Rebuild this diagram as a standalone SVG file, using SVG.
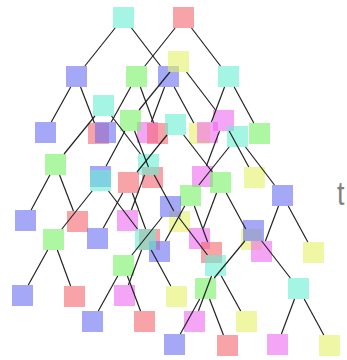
<svg xmlns="http://www.w3.org/2000/svg" width="347" height="360" viewBox="0 0 347 360">
<style>
rect{width:21px;height:21px;fill-opacity:0.6}
.c{fill:#67eed2}.p{fill:#f2666e}.b{fill:#696ef2}.g{fill:#76f266}.m{fill:#ee69ee}.y{fill:#e4f267}
#edges line{stroke:#222;stroke-width:1.2}
.lbl{font-family:"Liberation Sans",Arial,sans-serif;font-size:34px;fill:#808080}
</style>
<g id="nodes">
<g id="tA"><g id="nA"><rect class="c" x="113" y="7"/></g><g id="nD"><rect class="b" x="66" y="66"/></g><g id="nF"><rect class="b" x="158" y="66"/></g><g id="nL"><rect class="b" x="35" y="122"/></g><g id="nM"><rect class="p" x="88" y="123"/></g><g id="nO"><rect class="m" x="137" y="122"/></g><g id="nQ"><rect class="y" x="189" y="123"/></g></g>
<g id="tB"><g id="nB"><rect class="p" x="173" y="7"/></g><g id="nE"><rect class="g" x="126" y="66"/></g><g id="nG"><rect class="c" x="218" y="66"/></g><g id="nN"><rect class="b" x="95" y="122"/></g><g id="nP"><rect class="p" x="147" y="123"/></g><g id="nR"><rect class="m" x="197" y="122"/></g><g id="nT"><rect class="g" x="249" y="123"/></g></g>
<g id="tC"><g id="nC"><rect class="y" x="168" y="51"/></g><g id="nI"><rect class="g" x="120" y="110"/></g><g id="nJ"><rect class="m" x="213" y="110"/></g><g id="nW"><rect class="b" x="90" y="166"/></g><g id="nZ"><rect class="p" x="142" y="167"/></g><g id="nAA"><rect class="m" x="192" y="166"/></g><g id="nAC"><rect class="y" x="244" y="167"/></g></g>
<g id="tH"><g id="nH"><rect class="c" x="93" y="95"/></g><g id="nU"><rect class="g" x="45" y="154"/></g><g id="nV"><rect class="c" x="138" y="154"/></g><g id="nAG"><rect class="b" x="15" y="210"/></g><g id="nAH"><rect class="p" x="67" y="211"/></g><g id="nAI"><rect class="m" x="117" y="210"/></g><g id="nAJ"><rect class="y" x="169" y="211"/></g></g>
<g id="tK"><g id="nK"><rect class="c" x="165" y="114"/></g><g id="nY"><rect class="p" x="118" y="172"/></g><g id="nAB"><rect class="g" x="210" y="172"/></g><g id="nAO"><rect class="b" x="87" y="228"/></g><g id="nAP"><rect class="p" x="139" y="229"/></g><g id="nAL"><rect class="m" x="189" y="228"/></g><g id="nAM"><rect class="y" x="241" y="229"/></g></g>
<g id="tS"><g id="nS"><rect class="c" x="227" y="126"/></g><g id="nAD"><rect class="g" x="180" y="185"/></g><g id="nAE"><rect class="b" x="272" y="185"/></g><g id="nAR"><rect class="b" x="149" y="241"/></g><g id="nAT"><rect class="p" x="201" y="242"/></g><g id="nAS"><rect class="m" x="251" y="241"/></g><g id="nAU"><rect class="y" x="303" y="242"/></g></g>
<g id="tX"><g id="nX"><rect class="c" x="90" y="170"/></g><g id="nAN"><rect class="g" x="43" y="229"/></g><g id="nAQ"><rect class="c" x="135" y="229"/></g><g id="nAZ"><rect class="b" x="12" y="285"/></g><g id="nBA"><rect class="p" x="64" y="286"/></g><g id="nBB"><rect class="m" x="114" y="285"/></g><g id="nBC"><rect class="y" x="166" y="286"/></g></g>
<g id="tAF"><g id="nAF"><rect class="b" x="160" y="196"/></g><g id="nAW"><rect class="g" x="113" y="255"/></g><g id="nAV"><rect class="c" x="205" y="255"/></g><g id="nBF"><rect class="b" x="82" y="311"/></g><g id="nBG"><rect class="p" x="134" y="311"/></g><g id="nBD"><rect class="m" x="184" y="311"/></g><g id="nBE"><rect class="y" x="236" y="311"/></g></g>
<g id="tAK"><g id="nAK"><rect class="b" x="243" y="220"/></g><g id="nAX"><rect class="g" x="195" y="278"/></g><g id="nAY"><rect class="c" x="288" y="278"/></g><g id="nBH"><rect class="b" x="164" y="334"/></g><g id="nBI"><rect class="p" x="217" y="335"/></g><g id="nBJ"><rect class="m" x="267" y="334"/></g><g id="nBK"><rect class="y" x="319" y="335"/></g></g>
</g>
<g id="edges">
<line x1="115.14" y1="28" x2="84.86" y2="66"/><line x1="131.51" y1="28" x2="160.49" y2="66"/>
<line x1="70.69" y1="87" x2="51.31" y2="122"/><line x1="80.55" y1="87" x2="94.45" y2="123"/>
<line x1="164.56" y1="87" x2="151.44" y2="122"/><line x1="174.21" y1="87" x2="193.79" y2="123"/>
<line x1="175.14" y1="28" x2="144.86" y2="66"/><line x1="191.51" y1="28" x2="220.49" y2="66"/>
<line x1="130.69" y1="87" x2="111.31" y2="122"/><line x1="140.37" y1="87" x2="153.63" y2="123"/>
<line x1="224.56" y1="87" x2="211.44" y2="122"/><line x1="234.21" y1="87" x2="253.79" y2="123"/>
<line x1="169.96" y1="72" x2="139.04" y2="110"/><line x1="186.51" y1="72" x2="215.49" y2="110"/>
<line x1="124.88" y1="131" x2="106.13" y2="166"/><line x1="134.55" y1="131" x2="148.45" y2="167"/>
<line x1="219.56" y1="131" x2="206.44" y2="166"/><line x1="229.21" y1="131" x2="248.79" y2="167"/>
<line x1="94.96" y1="116" x2="64.04" y2="154"/><line x1="111.51" y1="116" x2="140.49" y2="154"/>
<line x1="49.88" y1="175" x2="31.13" y2="210"/><line x1="59.55" y1="175" x2="73.45" y2="211"/>
<line x1="144.56" y1="175" x2="131.44" y2="210"/><line x1="154.21" y1="175" x2="173.79" y2="211"/>
<line x1="166.99" y1="135" x2="137.01" y2="172"/><line x1="183.65" y1="135" x2="212.35" y2="172"/>
<line x1="122.69" y1="193" x2="103.31" y2="228"/><line x1="132.37" y1="193" x2="145.63" y2="229"/>
<line x1="216.56" y1="193" x2="203.44" y2="228"/><line x1="226.21" y1="193" x2="245.79" y2="229"/>
<line x1="229.14" y1="147" x2="198.86" y2="185"/><line x1="245.51" y1="147" x2="274.49" y2="185"/>
<line x1="184.69" y1="206" x2="165.31" y2="241"/><line x1="194.37" y1="206" x2="207.63" y2="242"/>
<line x1="278.56" y1="206" x2="265.44" y2="241"/><line x1="288.21" y1="206" x2="307.79" y2="242"/>
<line x1="92.14" y1="191" x2="61.86" y2="229"/><line x1="108.51" y1="191" x2="137.49" y2="229"/>
<line x1="47.69" y1="250" x2="28.31" y2="285"/><line x1="57.37" y1="250" x2="70.63" y2="286"/>
<line x1="141.56" y1="250" x2="128.44" y2="285"/><line x1="151.21" y1="250" x2="170.79" y2="286"/>
<line x1="162.14" y1="217" x2="131.86" y2="255"/><line x1="178.51" y1="217" x2="207.49" y2="255"/>
<line x1="117.69" y1="276" x2="98.31" y2="311"/><line x1="127.44" y1="276" x2="140.56" y2="311"/>
<line x1="211.56" y1="276" x2="198.44" y2="311"/><line x1="221.31" y1="276" x2="240.69" y2="311"/>
<line x1="244.81" y1="241" x2="214.19" y2="278"/><line x1="261.65" y1="241" x2="290.35" y2="278"/>
<line x1="199.69" y1="299" x2="180.31" y2="334"/><line x1="209.55" y1="299" x2="223.45" y2="335"/>
<line x1="294.56" y1="299" x2="281.44" y2="334"/><line x1="304.21" y1="299" x2="323.79" y2="335"/>
</g>
<text class="lbl" x="337" y="205" textLength="7.5" lengthAdjust="spacingAndGlyphs">t</text>
</svg>
